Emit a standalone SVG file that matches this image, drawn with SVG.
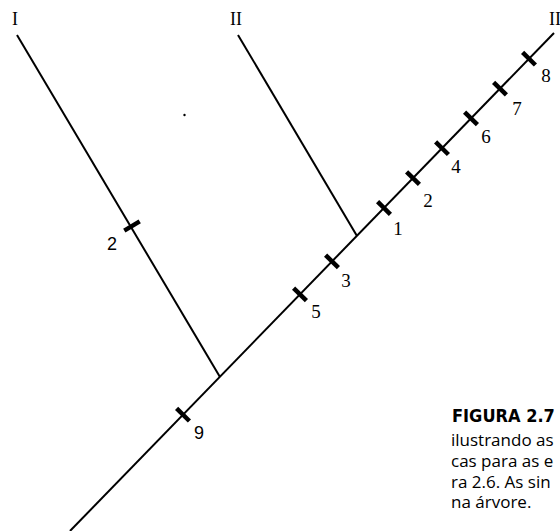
<svg xmlns="http://www.w3.org/2000/svg" width="560" height="531" viewBox="0 0 560 531">
<style>
.br{stroke:#000;stroke-width:2;fill:none;stroke-linecap:butt}
.tk{stroke:#000;stroke-width:4.5;fill:none}
.rn{font-family:"Liberation Serif",serif;font-size:18px;fill:#000;text-anchor:middle}
.num{font-family:"Liberation Serif",serif;font-size:19px;fill:#000;text-anchor:middle}
.sn{font-family:"Liberation Sans",sans-serif;font-size:18px;fill:#000;text-anchor:middle}
.cap{font-family:"Open Sans","Noto Sans",sans-serif;font-size:17px;fill:#000}
.capb{font-family:"DejaVu Sans",sans-serif;font-weight:bold;font-stretch:condensed;font-size:18px;fill:#000}
</style>
<rect width="560" height="531" fill="#fff"/>
<g id="connectors">
  <line class="br" x1="70" y1="531" x2="554" y2="33"/>
  <line class="br" x1="17" y1="35" x2="220" y2="377"/>
  <line class="br" x1="238" y1="35" x2="357" y2="236"/>
</g>
<g id="ticks">
  <line class="tk" x1="176.6" y1="408.4" x2="189.4" y2="421"/>
  <line class="tk" x1="293.6" y1="288.1" x2="306.4" y2="300.7"/>
  <line class="tk" x1="325.6" y1="255.1" x2="338.4" y2="267.7"/>
  <line class="tk" x1="377.6" y1="201.7" x2="390.4" y2="214.3"/>
  <line class="tk" x1="406.6" y1="171.8" x2="419.4" y2="184.4"/>
  <line class="tk" x1="435.6" y1="141.9" x2="448.4" y2="154.5"/>
  <line class="tk" x1="464.6" y1="112.1" x2="477.4" y2="124.7"/>
  <line class="tk" x1="493.6" y1="82.3" x2="506.4" y2="94.9"/>
  <line class="tk" x1="522.6" y1="52.4" x2="535.4" y2="65"/>
  <line class="tk" x1="124.3" y1="230.6" x2="139.7" y2="221.4"/>
</g>
<g id="node-I"><text class="rn" x="15" y="25">I</text></g>
<g id="node-II-left"><text class="rn" x="236" y="25">II</text></g>
<g id="node-II-right"><text class="rn" x="549" y="25" style="text-anchor:start">II</text></g>
<g id="labels">
  <text class="sn" x="112" y="250">2</text>
  <text class="sn" x="199" y="439">9</text>
  <text class="num" x="316" y="318">5</text>
  <text class="num" x="346" y="287">3</text>
  <text class="num" x="398" y="235">1</text>
  <text class="num" x="428" y="207">2</text>
  <text class="num" x="456" y="173">4</text>
  <text class="num" x="486" y="143">6</text>
  <text class="num" x="517" y="115">7</text>
  <text class="num" x="546" y="82">8</text>
</g>
<circle cx="184.5" cy="115" r="1.2" fill="#000"/>
<g id="caption">
  <text class="capb" x="452" y="422">FIGURA 2.7</text>
  <text class="cap" x="451" y="446">ilustrando as</text>
  <text class="cap" x="451" y="467">cas para as e</text>
  <text class="cap" x="451" y="488">ra 2.6. As sin</text>
  <text class="cap" x="451" y="508">na árvore.</text>
</g>
</svg>
